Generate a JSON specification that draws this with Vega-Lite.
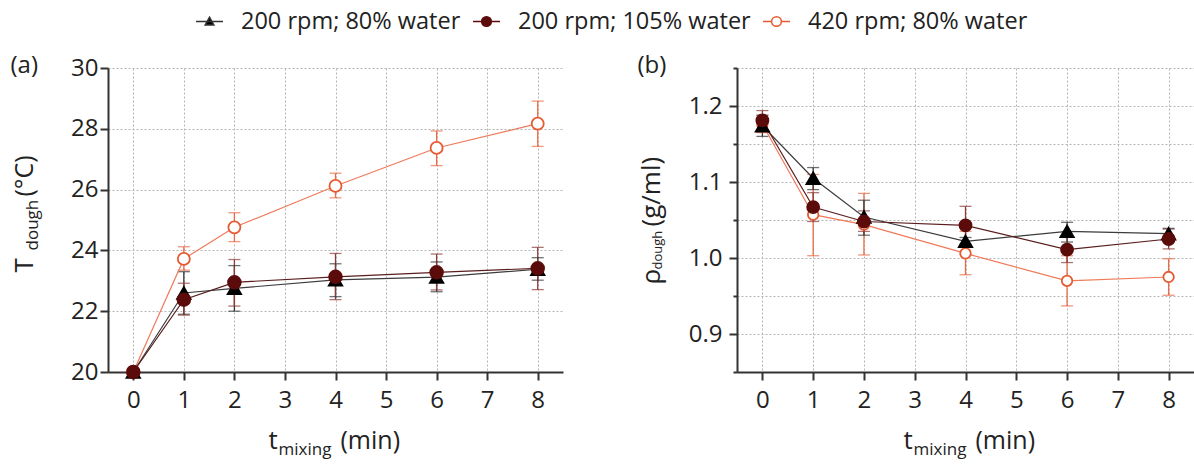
{
  "$schema": "https://vega.github.io/schema/vega-lite/v6.json",
  "autosize": {"type": "pad"},
  "padding": {"left": 10, "top": 7, "right": 0, "bottom": 14},
  "background": "white",
  "bounds": "flush",
  "spacing": 174,
  "config": {
    "font": "Open Sans",
    "view": {"stroke": null},
    "axis": {
      "labelFont": "Open Sans", "labelFontSize": 24, "labelColor": "#222",
      "titleFont": "Open Sans", "titleColor": "#222", "titleFontWeight": "normal",
      "domainColor": "#333", "domainWidth": 2, "tickColor": "#333", "tickWidth": 2, "tickSize": 8,
      "labelPadding": 3, "gridColor": "#b5b5b5", "gridDash": [2, 2], "gridWidth": 1
    }
  },
  "datasets": {
    "a": [
      {"s": "420 rpm; 80% water", "t": 0, "v": 20.0, "lo": 20.0, "hi": 20.0},
      {"s": "420 rpm; 80% water", "t": 1, "v": 23.72, "lo": 23.35, "hi": 24.12},
      {"s": "420 rpm; 80% water", "t": 2, "v": 24.76, "lo": 24.29, "hi": 25.24},
      {"s": "420 rpm; 80% water", "t": 4, "v": 26.12, "lo": 25.73, "hi": 26.54},
      {"s": "420 rpm; 80% water", "t": 6, "v": 27.37, "lo": 26.79, "hi": 27.93},
      {"s": "420 rpm; 80% water", "t": 8, "v": 28.17, "lo": 27.42, "hi": 28.91},
      {"s": "200 rpm; 80% water", "t": 0, "v": 20.0, "lo": 20.0, "hi": 20.0},
      {"s": "200 rpm; 80% water", "t": 1, "v": 22.6, "lo": 21.9, "hi": 23.3},
      {"s": "200 rpm; 80% water", "t": 2, "v": 22.75, "lo": 22.0, "hi": 23.5},
      {"s": "200 rpm; 80% water", "t": 4, "v": 23.03, "lo": 22.48, "hi": 23.56},
      {"s": "200 rpm; 80% water", "t": 6, "v": 23.12, "lo": 22.64, "hi": 23.62},
      {"s": "200 rpm; 80% water", "t": 8, "v": 23.38, "lo": 23.02, "hi": 23.76},
      {"s": "200 rpm; 105% water", "t": 0, "v": 20.0, "lo": 20.0, "hi": 20.0},
      {"s": "200 rpm; 105% water", "t": 1, "v": 22.38, "lo": 21.87, "hi": 22.92},
      {"s": "200 rpm; 105% water", "t": 2, "v": 22.95, "lo": 22.17, "hi": 23.7},
      {"s": "200 rpm; 105% water", "t": 4, "v": 23.13, "lo": 22.38, "hi": 23.9},
      {"s": "200 rpm; 105% water", "t": 6, "v": 23.28, "lo": 22.7, "hi": 23.88},
      {"s": "200 rpm; 105% water", "t": 8, "v": 23.41, "lo": 22.71, "hi": 24.1}
    ],
    "b": [
      {"s": "420 rpm; 80% water", "t": 0, "v": 1.176, "lo": 1.165, "hi": 1.187},
      {"s": "420 rpm; 80% water", "t": 1, "v": 1.057, "lo": 1.003, "hi": 1.11},
      {"s": "420 rpm; 80% water", "t": 2, "v": 1.044, "lo": 1.004, "hi": 1.085},
      {"s": "420 rpm; 80% water", "t": 4, "v": 1.006, "lo": 0.978, "hi": 1.035},
      {"s": "420 rpm; 80% water", "t": 6, "v": 0.970, "lo": 0.937, "hi": 1.003},
      {"s": "420 rpm; 80% water", "t": 8, "v": 0.975, "lo": 0.951, "hi": 0.999},
      {"s": "200 rpm; 80% water", "t": 0, "v": 1.174, "lo": 1.16, "hi": 1.188},
      {"s": "200 rpm; 80% water", "t": 1, "v": 1.105, "lo": 1.09, "hi": 1.119},
      {"s": "200 rpm; 80% water", "t": 2, "v": 1.054, "lo": 1.03, "hi": 1.076},
      {"s": "200 rpm; 80% water", "t": 4, "v": 1.022, "lo": 1.017, "hi": 1.027},
      {"s": "200 rpm; 80% water", "t": 6, "v": 1.035, "lo": 1.021, "hi": 1.047},
      {"s": "200 rpm; 80% water", "t": 8, "v": 1.032, "lo": 1.026, "hi": 1.039},
      {"s": "200 rpm; 105% water", "t": 0, "v": 1.181, "lo": 1.168, "hi": 1.194},
      {"s": "200 rpm; 105% water", "t": 1, "v": 1.067, "lo": 1.048, "hi": 1.086},
      {"s": "200 rpm; 105% water", "t": 2, "v": 1.048, "lo": 1.035, "hi": 1.062},
      {"s": "200 rpm; 105% water", "t": 4, "v": 1.043, "lo": 1.018, "hi": 1.068},
      {"s": "200 rpm; 105% water", "t": 6, "v": 1.011, "lo": 0.994, "hi": 1.028},
      {"s": "200 rpm; 105% water", "t": 8, "v": 1.025, "lo": 1.012, "hi": 1.038}
    ]
  },
  "hconcat": [
    {
      "width": 455, "height": 304,
      "data": {"name": "a"},
      "resolve": {
        "scale": {"color": "independent", "fill": "independent", "shape": "independent", "size": "independent"},
        "axis": {"x": "independent", "y": "independent"}
      },
      "layer": [
        {
          "mark": {"type": "rule", "strokeWidth": 1.3},
          "encoding": {
            "x": {"field": "t", "type": "quantitative", "scale": {"domain": [-0.5, 8.5], "nice": false, "zero": false},
              "axis": {"orient": "bottom", "values": [0, 1, 2, 3, 4, 5, 6, 7, 8], "format": "d", "grid": true, "domainColor": "#333", "domainWidth": 2, "labelPadding": 8,
                "title": "t", "titleFontSize": 26, "titleAlign": "left", "titleBaseline": "alphabetic", "titleAngle": 0, "titleX": 160, "titleY": 76}},
            "y": {"field": "lo", "type": "quantitative", "scale": {"domain": [20, 30], "nice": false, "zero": false},
              "axis": {"orient": "left", "values": [20, 22, 24, 26, 28, 30], "grid": true, "domainColor": "#333", "domainWidth": 2, "labelPadding": 2,
                "title": "T", "titleFontSize": 26, "titleAngle": -90, "titleAlign": "left", "titleBaseline": "alphabetic", "titleX": -76, "titleY": 204}},
            "y2": {"field": "hi"},
            "color": {"field": "s", "type": "nominal", "legend": null,
              "scale": {"domain": ["200 rpm; 80% water", "200 rpm; 105% water", "420 rpm; 80% water"], "range": ["#333333", "#8c3b3b", "#ea6a46"]}}
          }
        },
        {
          "mark": {"type": "tick", "orient": "horizontal", "size": 12, "thickness": 1.3},
          "encoding": {
            "x": {"field": "t", "type": "quantitative", "axis": null},
            "y": {"field": "lo", "type": "quantitative",
              "axis": {"orient": "left", "labels": false, "ticks": false, "domain": false, "grid": false,
                "title": "(a)", "titleFontSize": 24, "titleAngle": 0, "titleAlign": "left", "titleBaseline": "alphabetic", "titleX": -98, "titleY": 4}},
            "color": {"field": "s", "type": "nominal", "legend": null,
              "scale": {"domain": ["200 rpm; 80% water", "200 rpm; 105% water", "420 rpm; 80% water"], "range": ["#333333", "#8c3b3b", "#ea6a46"]}}
          }
        },
        {
          "mark": {"type": "tick", "orient": "horizontal", "size": 12, "thickness": 1.3},
          "encoding": {
            "x": {"field": "t", "type": "quantitative", "axis": null},
            "y": {"field": "hi", "type": "quantitative", "axis": null},
            "color": {"field": "s", "type": "nominal", "legend": null,
              "scale": {"domain": ["200 rpm; 80% water", "200 rpm; 105% water", "420 rpm; 80% water"], "range": ["#333333", "#8c3b3b", "#ea6a46"]}}
          }
        },
        {
          "mark": {"type": "line", "strokeWidth": 1.2},
          "encoding": {
            "x": {"field": "t", "type": "quantitative",
              "axis": {"orient": "bottom", "labels": false, "ticks": false, "domain": false, "grid": false,
                "title": "mixing", "titleFontSize": 17, "titleAlign": "left", "titleBaseline": "alphabetic", "titleAngle": 0, "titleX": 170, "titleY": 82}},
            "y": {"field": "v", "type": "quantitative",
              "axis": {"orient": "left", "labels": false, "ticks": false, "domain": false, "grid": false,
                "title": "dough", "titleFontSize": 17, "titleAngle": -90, "titleAlign": "left", "titleBaseline": "alphabetic", "titleX": -71, "titleY": 182}},
            "color": {"field": "s", "type": "nominal", "legend": null,
              "scale": {"domain": ["200 rpm; 80% water", "200 rpm; 105% water", "420 rpm; 80% water"], "range": ["#3c3c3c", "#5a1e1e", "#ef7a5a"]}}
          }
        },
        {
          "mark": {"type": "point", "filled": false, "opacity": 1, "strokeWidth": 1.8},
          "encoding": {
            "x": {"field": "t", "type": "quantitative",
              "axis": {"orient": "bottom", "labels": false, "ticks": false, "domain": false, "grid": false,
                "title": "(min)", "titleFontSize": 25, "titleAlign": "left", "titleBaseline": "alphabetic", "titleAngle": 0, "titleX": 232, "titleY": 76}},
            "y": {"field": "v", "type": "quantitative",
              "axis": {"orient": "left", "labels": false, "ticks": false, "domain": false, "grid": false,
                "title": "(°C)", "titleFontSize": 25, "titleAngle": -90, "titleAlign": "left", "titleBaseline": "alphabetic", "titleX": -76, "titleY": 128}},
            "color": {"field": "s", "type": "nominal", "legend": null,
              "scale": {"domain": ["200 rpm; 80% water", "200 rpm; 105% water", "420 rpm; 80% water"], "range": ["#000000", "#5c0b0b", "#e65a32"]}},
            "fill": {"field": "s", "type": "nominal", "legend": null,
              "scale": {"domain": ["200 rpm; 80% water", "200 rpm; 105% water", "420 rpm; 80% water"], "range": ["#000000", "#5c0b0b", "#ffffff"]}},
            "shape": {"field": "s", "type": "nominal", "legend": null,
              "scale": {"domain": ["200 rpm; 80% water", "200 rpm; 105% water", "420 rpm; 80% water"], "range": ["triangle-up", "circle", "circle"]}},
            "size": {"field": "s", "type": "nominal", "legend": null,
              "scale": {"domain": ["200 rpm; 80% water", "200 rpm; 105% water", "420 rpm; 80% water"], "range": [180, 144, 200]}}
          }
        },
        {
          "transform": [{"filter": "datum.t < 0"}],
          "mark": {"type": "point", "filled": false, "opacity": 1, "strokeWidth": 1.5},
          "encoding": {
            "x": {"field": "t", "type": "quantitative", "axis": null},
            "y": {"field": "v", "type": "quantitative", "axis": null},
            "color": {"field": "s", "type": "nominal",
              "scale": {"domain": ["200 rpm; 80% water", "200 rpm; 105% water", "420 rpm; 80% water"], "range": ["#333333", "#5c0b0b", "#e65a32"]},
              "legend": {
                "orient": "none", "legendX": 87, "legendY": -61, "direction": "horizontal", "title": null,
                "labelFont": "Open Sans", "labelFontSize": 23.5, "labelColor": "#222", "labelOffset": 17, "columnPadding": 9, "labelLimit": 0,
                "padding": 0, "symbolStrokeWidth": 1.5
              }},
            "fill": {"field": "s", "type": "nominal", "legend": null,
              "scale": {"domain": ["200 rpm; 80% water", "200 rpm; 105% water", "420 rpm; 80% water"], "range": ["#000000", "#5c0b0b", "#ffffff"]}},
            "shape": {"field": "s", "type": "nominal", "legend": null,
              "scale": {"domain": ["200 rpm; 80% water", "200 rpm; 105% water", "420 rpm; 80% water"],
                "range": ["M-1,0H1M0,-0.32L0.32,0.26L-0.32,0.26Z", "M-1,0H1M0.36,0A0.36,0.36 0 1 1 -0.36,0A0.36,0.36 0 1 1 0.36,0Z", "M-1,0H-0.36M0.36,0H1M0.36,0A0.36,0.36 0 1 1 -0.36,0A0.36,0.36 0 1 1 0.36,0Z"]}},
            "size": {"field": "s", "type": "nominal", "legend": null,
              "scale": {"domain": ["200 rpm; 80% water", "200 rpm; 105% water", "420 rpm; 80% water"], "range": [729, 729, 729]}}
          }
        }
      ]
    },
    {
      "width": 457, "height": 304,
      "data": {"name": "b"},
      "resolve": {
        "scale": {"color": "independent", "fill": "independent", "shape": "independent", "size": "independent"},
        "axis": {"x": "independent", "y": "independent"}
      },
      "layer": [
        {
          "mark": {"type": "rule", "strokeWidth": 1.3},
          "encoding": {
            "x": {"field": "t", "type": "quantitative", "scale": {"domain": [-0.5, 8.5], "nice": false, "zero": false},
              "axis": {"orient": "bottom", "values": [0, 1, 2, 3, 4, 5, 6, 7, 8], "format": "d", "grid": true, "domainColor": "#333", "domainWidth": 2, "labelPadding": 8,
                "title": "t", "titleFontSize": 26, "titleAlign": "left", "titleBaseline": "alphabetic", "titleAngle": 0, "titleX": 166, "titleY": 76}},
            "y": {"field": "lo", "type": "quantitative", "scale": {"domain": [0.85, 1.25], "nice": false, "zero": false},
              "axis": {"orient": "left", "values": [0.85, 0.9, 0.95, 1.0, 1.05, 1.1, 1.15, 1.2, 1.25], "grid": true, "domainColor": "#333", "domainWidth": 2, "labelPadding": 7,
                "labelExpr": "abs(datum.value * 10 - round(datum.value * 10)) < 0.001 ? format(datum.value, '.1f') : ''",
                "tickSize": {"condition": {"test": "abs(datum.value * 10 - round(datum.value * 10)) < 0.001", "value": 8}, "value": 4},
                "title": "ρ", "titleFontSize": 26, "titleAngle": -90, "titleAlign": "left", "titleBaseline": "alphabetic", "titleX": -78, "titleY": 216}},
            "y2": {"field": "hi"},
            "color": {"field": "s", "type": "nominal", "legend": null,
              "scale": {"domain": ["200 rpm; 80% water", "200 rpm; 105% water", "420 rpm; 80% water"], "range": ["#333333", "#8c3b3b", "#ea6a46"]}}
          }
        },
        {
          "mark": {"type": "tick", "orient": "horizontal", "size": 12, "thickness": 1.3},
          "encoding": {
            "x": {"field": "t", "type": "quantitative", "axis": null},
            "y": {"field": "lo", "type": "quantitative",
              "axis": {"orient": "left", "labels": false, "ticks": false, "domain": false, "grid": false,
                "title": "(b)", "titleFontSize": 24, "titleAngle": 0, "titleAlign": "left", "titleBaseline": "alphabetic", "titleX": -100, "titleY": 4}},
            "color": {"field": "s", "type": "nominal", "legend": null,
              "scale": {"domain": ["200 rpm; 80% water", "200 rpm; 105% water", "420 rpm; 80% water"], "range": ["#333333", "#8c3b3b", "#ea6a46"]}}
          }
        },
        {
          "mark": {"type": "tick", "orient": "horizontal", "size": 12, "thickness": 1.3},
          "encoding": {
            "x": {"field": "t", "type": "quantitative", "axis": null},
            "y": {"field": "hi", "type": "quantitative", "axis": null},
            "color": {"field": "s", "type": "nominal", "legend": null,
              "scale": {"domain": ["200 rpm; 80% water", "200 rpm; 105% water", "420 rpm; 80% water"], "range": ["#333333", "#8c3b3b", "#ea6a46"]}}
          }
        },
        {
          "mark": {"type": "line", "strokeWidth": 1.2},
          "encoding": {
            "x": {"field": "t", "type": "quantitative",
              "axis": {"orient": "bottom", "labels": false, "ticks": false, "domain": false, "grid": false,
                "title": "mixing", "titleFontSize": 17, "titleAlign": "left", "titleBaseline": "alphabetic", "titleAngle": 0, "titleX": 176, "titleY": 82}},
            "y": {"field": "v", "type": "quantitative",
              "axis": {"orient": "left", "labels": false, "ticks": false, "domain": false, "grid": false,
                "title": "dough", "titleFontSize": 13, "titleAngle": -90, "titleAlign": "left", "titleBaseline": "alphabetic", "titleX": -76, "titleY": 201}},
            "color": {"field": "s", "type": "nominal", "legend": null,
              "scale": {"domain": ["200 rpm; 80% water", "200 rpm; 105% water", "420 rpm; 80% water"], "range": ["#3c3c3c", "#5a1e1e", "#ef7a5a"]}}
          }
        },
        {
          "mark": {"type": "point", "filled": false, "opacity": 1, "strokeWidth": 1.8},
          "encoding": {
            "x": {"field": "t", "type": "quantitative",
              "axis": {"orient": "bottom", "labels": false, "ticks": false, "domain": false, "grid": false,
                "title": "(min)", "titleFontSize": 25, "titleAlign": "left", "titleBaseline": "alphabetic", "titleAngle": 0, "titleX": 238, "titleY": 76}},
            "y": {"field": "v", "type": "quantitative",
              "axis": {"orient": "left", "labels": false, "ticks": false, "domain": false, "grid": false,
                "title": "(g/ml)", "titleFontSize": 26, "titleAngle": -90, "titleAlign": "left", "titleBaseline": "alphabetic", "titleX": -78, "titleY": 158}},
            "color": {"field": "s", "type": "nominal", "legend": null,
              "scale": {"domain": ["200 rpm; 80% water", "200 rpm; 105% water", "420 rpm; 80% water"], "range": ["#000000", "#5c0b0b", "#e65a32"]}},
            "fill": {"field": "s", "type": "nominal", "legend": null,
              "scale": {"domain": ["200 rpm; 80% water", "200 rpm; 105% water", "420 rpm; 80% water"], "range": ["#000000", "#5c0b0b", "#ffffff"]}},
            "shape": {"field": "s", "type": "nominal", "legend": null,
              "scale": {"domain": ["200 rpm; 80% water", "200 rpm; 105% water", "420 rpm; 80% water"], "range": ["triangle-up", "circle", "circle"]}},
            "size": {"field": "s", "type": "nominal", "legend": null,
              "scale": {"domain": ["200 rpm; 80% water", "200 rpm; 105% water", "420 rpm; 80% water"], "range": [180, 110, 200]}}
          }
        }
      ]
    }
  ]
}
